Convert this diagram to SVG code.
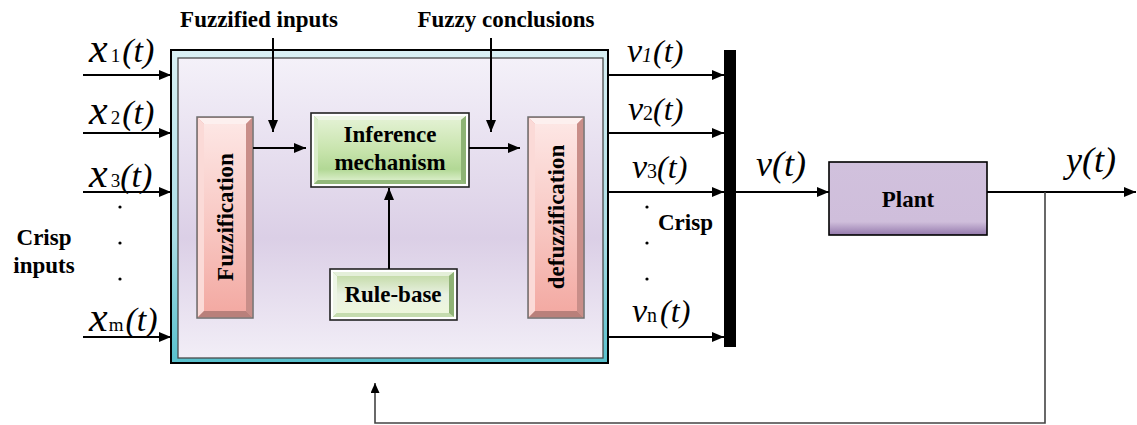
<svg xmlns="http://www.w3.org/2000/svg" width="1137" height="425" viewBox="0 0 1137 425">
  <defs>
    <linearGradient id="frameGrad" x1="0" y1="0" x2="0" y2="1">
      <stop offset="0" stop-color="#d9f0f4"/>
      <stop offset="0.6" stop-color="#a9dde5"/>
      <stop offset="1" stop-color="#58c0cc"/>
    </linearGradient>
    <linearGradient id="panelGrad" x1="0" y1="0" x2="0" y2="1">
      <stop offset="0" stop-color="#f4f1f9"/>
      <stop offset="0.6" stop-color="#dbcfe6"/>
      <stop offset="1" stop-color="#f2eef7"/>
    </linearGradient>
    <linearGradient id="pinkFace" x1="0" y1="0" x2="0" y2="1">
      <stop offset="0" stop-color="#fde6e4"/>
      <stop offset="0.55" stop-color="#f8c7c2"/>
      <stop offset="1" stop-color="#f3aaa3"/>
    </linearGradient>
    <linearGradient id="greenFace" x1="0" y1="0" x2="0" y2="1">
      <stop offset="0" stop-color="#e2f1d2"/>
      <stop offset="0.5" stop-color="#c8e4ad"/>
      <stop offset="0.82" stop-color="#b2d895"/>
      <stop offset="1" stop-color="#d8edc6"/>
    </linearGradient>
    <linearGradient id="ruleFace" x1="0" y1="0" x2="0" y2="1">
      <stop offset="0" stop-color="#c6dcab"/>
      <stop offset="0.5" stop-color="#e9f1e2"/>
      <stop offset="1" stop-color="#eef7dc"/>
    </linearGradient>
    <linearGradient id="plantGrad" x1="0" y1="0" x2="0" y2="1">
      <stop offset="0" stop-color="#d1c1dd"/>
      <stop offset="0.82" stop-color="#cfbedb"/>
      <stop offset="1" stop-color="#9479ac"/>
    </linearGradient>
    <marker id="ah" markerWidth="12" markerHeight="10" refX="12" refY="5" orient="auto" markerUnits="userSpaceOnUse">
      <path d="M0,0 L12,5 L0,10 z" fill="#000"/>
    </marker>
    <marker id="ahs" markerWidth="10" markerHeight="9" refX="10" refY="4.5" orient="auto" markerUnits="userSpaceOnUse">
      <path d="M0,0 L10,4.5 L0,9 z" fill="#000"/>
    </marker>
  </defs>
  <style>
    text { font-family: 'Liberation Serif', 'DejaVu Serif', serif; }
    .lbl { font-weight: bold; font-size: 23px; fill: #000; }
    .math { font-style: italic; fill: #000; }
    .sub { font-style: normal; }
    .wire { fill: none; stroke: #000; stroke-width: 2; }
    .fb { fill: none; stroke: #444; stroke-width: 1.6; }
  </style>

  <!-- fuzzy controller enclosure -->
  <g id="controller">
    <rect x="171" y="50" width="437" height="313" fill="url(#frameGrad)" stroke="#000" stroke-width="2"/>
    <rect x="178" y="58" width="425" height="300" fill="url(#panelGrad)" stroke="#4a4a4a" stroke-width="1.3"/>
  </g>

  <!-- fuzzification block -->
  <g id="fuzzification">
    <rect x="197" y="117" width="56" height="201" fill="#e9a6a0" stroke="#6e6e6e" stroke-width="1.5"/>
    <polygon points="198,118 252,118 246,124 204,124" fill="#fdf0ef"/>
    <polygon points="198,118 204,124 204,311 198,317" fill="#fbdad7"/>
    <polygon points="252,118 252,317 246,311 246,124" fill="#c98e89"/>
    <polygon points="198,317 252,317 246,311 204,311" fill="#b9807b"/>
    <rect x="204" y="124" width="42" height="187" fill="url(#pinkFace)"/>
    <text class="lbl" font-family="Liberation Serif, serif" transform="translate(233,217) rotate(-90)" text-anchor="middle" font-size="24">Fuzzification</text>
  </g>

  <!-- inference block -->
  <g id="inference">
    <rect x="311" y="113" width="158" height="74" fill="#fff" stroke="#222" stroke-width="1.6"/>
    <rect x="314" y="116" width="152" height="68" fill="#9fc586"/>
    <polygon points="314,116 466,116 461,120 318,120" fill="#eef7e5"/>
    <polygon points="314,116 318,120 318,180 314,184" fill="#d9ecc8"/>
    <polygon points="466,116 466,184 461,180 461,120" fill="#8db374"/>
    <polygon points="314,184 466,184 461,180 318,180" fill="#93b97b"/>
    <rect x="318" y="120" width="143" height="60" fill="url(#greenFace)"/>
    <text class="lbl" x="390" y="142" text-anchor="middle">Inference</text>
    <text class="lbl" x="390" y="170" text-anchor="middle">mechanism</text>
  </g>

  <!-- rule base block -->
  <g id="rule-base">
    <rect x="330" y="269" width="127" height="51" fill="#fff" stroke="#222" stroke-width="1.6"/>
    <rect x="333" y="272" width="121" height="45" fill="#a9c98e"/>
    <polygon points="333,272 454,272 449,276 337,276" fill="#e4efd9"/>
    <polygon points="333,272 337,276 337,313 333,317" fill="#eef6e6"/>
    <polygon points="454,272 454,317 449,313 449,276" fill="#8fb275"/>
    <polygon points="333,317 454,317 449,313 337,313" fill="#c5dcae"/>
    <rect x="337" y="276" width="112" height="37" fill="url(#ruleFace)"/>
    <text class="lbl" x="393" y="302" text-anchor="middle">Rule-base</text>
  </g>

  <!-- defuzzification block -->
  <g id="defuzzification">
    <rect x="528" y="117" width="56" height="201" fill="#e9a6a0" stroke="#6e6e6e" stroke-width="1.5"/>
    <polygon points="529,118 583,118 577,124 535,124" fill="#fdf0ef"/>
    <polygon points="529,118 535,124 535,311 529,317" fill="#fbdad7"/>
    <polygon points="583,118 583,317 577,311 577,124" fill="#c98e89"/>
    <polygon points="529,317 583,317 577,311 535,311" fill="#b9807b"/>
    <rect x="535" y="124" width="42" height="187" fill="url(#pinkFace)"/>
    <text class="lbl" transform="translate(564,217) rotate(-90)" text-anchor="middle" font-size="24">defuzzification</text>
  </g>

  <!-- crisp output collector bar -->
  <g id="mux">
    <rect x="724" y="50" width="12" height="297" fill="#000"/>
  </g>

  <!-- plant block -->
  <g id="plant">
    <rect x="829" y="162" width="158" height="73" fill="url(#plantGrad)" stroke="#000" stroke-width="1.6"/>
    <text class="lbl" x="908" y="207" text-anchor="middle">Plant</text>
  </g>

  <!-- connectors -->
  <g id="connectors">
    <path class="wire" d="M83,75 H171" marker-end="url(#ah)"/>
    <path class="wire" d="M83,133 H171" marker-end="url(#ah)"/>
    <path class="wire" d="M83,192 H171" marker-end="url(#ah)"/>
    <path class="wire" d="M83,337 H171" marker-end="url(#ah)"/>
    <path class="wire" d="M273,38 V132" marker-end="url(#ah)"/>
    <path class="wire" d="M491,38 V132" marker-end="url(#ah)"/>
    <path class="wire" d="M253,148 H306" marker-end="url(#ah)"/>
    <path class="wire" d="M469,148 H520" marker-end="url(#ah)"/>
    <path class="wire" d="M389,269 V188" marker-end="url(#ah)"/>
    <path class="wire" d="M608,75 H724" marker-end="url(#ah)"/>
    <path class="wire" d="M608,133 H724" marker-end="url(#ah)"/>
    <path class="wire" d="M608,192 H724" marker-end="url(#ah)"/>
    <path class="wire" d="M608,337 H724" marker-end="url(#ah)"/>
    <path class="wire" d="M736,192 H829" marker-end="url(#ah)"/>
    <path class="wire" d="M987,192 H1136" marker-end="url(#ah)"/>
    <path class="fb" d="M1045,192 V423 H375 V383" marker-end="url(#ahs)"/>
  </g>

  <!-- signal labels -->
  <g id="labels">
    <text class="lbl" x="259" y="27" text-anchor="middle">Fuzzified inputs</text>
    <text class="lbl" x="506" y="27" text-anchor="middle">Fuzzy conclusions</text>
    <text class="lbl" x="44" y="245" text-anchor="middle">Crisp</text>
    <text class="lbl" x="44" y="273" text-anchor="middle">inputs</text>
    <text class="lbl" x="658" y="230">Crisp</text>

    <text class="math" x="89" y="62"><tspan font-size="42">x</tspan><tspan class="sub" font-size="19" dx="3">1</tspan><tspan font-size="34" dx="2">(t)</tspan></text>
    <text class="math" x="89" y="124"><tspan font-size="42">x</tspan><tspan class="sub" font-size="19" dx="3">2</tspan><tspan font-size="34" dx="2">(t)</tspan></text>
    <text class="math" x="89" y="187"><tspan font-size="42">x</tspan><tspan class="sub" font-size="19" dx="3">3</tspan><tspan font-size="34" dx="0">(t)</tspan></text>
    <text class="math" x="89" y="331"><tspan font-size="42">x</tspan><tspan class="sub" font-size="19" dx="1">m</tspan><tspan font-size="34" dx="2">(t)</tspan></text>

    <text class="math" x="627" y="62"><tspan font-size="34">v</tspan><tspan font-size="20">1</tspan><tspan font-size="32" dx="1">(t)</tspan></text>
    <text class="math" x="628" y="120"><tspan font-size="34">v</tspan><tspan class="sub" font-size="20">2</tspan><tspan font-size="32">(t)</tspan></text>
    <text class="math" x="632" y="178"><tspan font-size="34">v</tspan><tspan class="sub" font-size="20">3</tspan><tspan font-size="32">(t)</tspan></text>
    <text class="math" x="632" y="322"><tspan font-size="34">v</tspan><tspan class="sub" font-size="20">n</tspan><tspan font-size="32" dx="3">(t)</tspan></text>

    <text class="math" x="756" y="176" font-size="36">v(t)</text>
    <text class="math" x="1066" y="172" font-size="36">y(t)</text>

    <circle cx="120" cy="207" r="1.6"/>
    <circle cx="120" cy="243" r="1.6"/>
    <circle cx="120" cy="279" r="1.6"/>
    <circle cx="647" cy="207" r="1.6"/>
    <circle cx="647" cy="243" r="1.6"/>
    <circle cx="647" cy="279" r="1.6"/>
  </g>
</svg>
